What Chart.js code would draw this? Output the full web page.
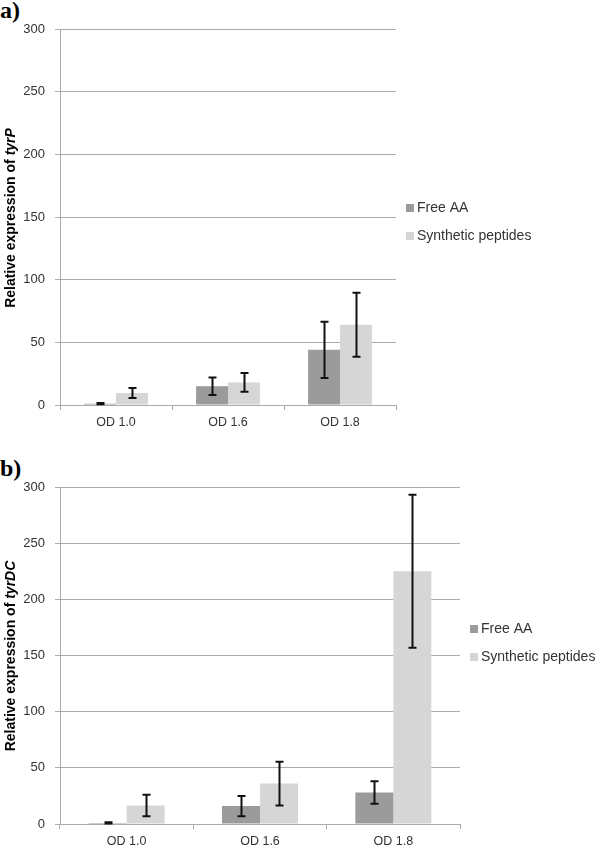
<!DOCTYPE html>
<html lang="en">
<head>
    <meta charset="UTF-8">
    <title>Relative expression of tyrP and tyrDC</title>
    <script src="https://cdn.jsdelivr.net/npm/chart.js"></script>
    <style>
        body {
            margin: 0;
            background: #ffffff;
            width: 600px;
            height: 849px;
            position: relative;
            overflow: hidden;
        }
        .panel-label {
            position: absolute;
            left: 0;
            font-family: "Liberation Serif", "DejaVu Serif", serif;
            font-weight: bold;
            font-size: 24px;
            line-height: 24px;
            color: #000;
        }
        canvas {
            position: absolute;
            left: 0;
        }
    </style>
</head>
<body>
    <div class="panel-label" style="top: -2px;">a)</div>
    <div class="panel-label" style="top: 456px;">b)</div>
    <canvas id="chartA" width="600" height="432" style="top: 0;"></canvas>
    <canvas id="chartB" width="600" height="417" style="top: 432px;"></canvas>

    <script>
        // data
        const categories = ['OD 1.0', 'OD 1.6', 'OD 1.8'];
        const seriesNames = ['Free AA', 'Synthetic peptides'];

        const tyrPFree = [1, 15, 44];
        const tyrPFreeErr = [0.5, 7, 22.5];
        const tyrPSynth = [9.5, 18, 64];
        const tyrPSynthErr = [4, 7.5, 25.5];

        const tyrDCFree = [1, 16, 28];
        const tyrDCFreeErr = [0.5, 9, 10];
        const tyrDCSynth = [16.5, 36, 225];
        const tyrDCSynthErr = [9.5, 19.5, 68];

        const yMax = 300;
        const yStep = 50;

        const colors = ['#9b9b9b', '#d6d6d6'];
        const gridColor = '#ababab';
        const textColor = '#333333';

        Chart.defaults.font.family = '"Liberation Sans", Arial, sans-serif';
        Chart.defaults.color = textColor;

        // error bars, drawn from the dataset's errors array
        const errorBars = {
            id: 'errorBars',
            afterDatasetsDraw(chart) {
                const ctx = chart.ctx;
                const y = chart.scales.y;
                ctx.save();
                ctx.strokeStyle = '#111';
                ctx.lineWidth = 2;
                chart.data.datasets.forEach((ds, i) => {
                    const meta = chart.getDatasetMeta(i);
                    meta.data.forEach((bar, j) => {
                        const v = ds.data[j], e = ds.errors[j];
                        const top = y.getPixelForValue(v + e);
                        const bot = y.getPixelForValue(v - e);
                        const x = Math.round(bar.x) + 0.5;
                        ctx.beginPath();
                        ctx.moveTo(x, top);
                        ctx.lineTo(x, bot);
                        ctx.moveTo(x - 4, top);
                        ctx.lineTo(x + 4, top);
                        ctx.moveTo(x - 4, bot);
                        ctx.lineTo(x + 4, bot);
                        ctx.stroke();
                    });
                });
                ctx.restore();
            }
        };

        // y title with italic gene name, plus a plain legend on the right
        const extras = {
            id: 'extras',
            afterDraw(chart, args, opts) {
                const ctx = chart.ctx;
                ctx.save();
                // axis title
                const plain = 'Relative expression of ';
                const gene = opts.gene;
                const fPlain = 'bold 14px "Liberation Sans", Arial, sans-serif';
                const fItal = 'italic bold 14px "Liberation Sans", Arial, sans-serif';
                ctx.font = fPlain;
                const w1 = ctx.measureText(plain).width;
                ctx.font = fItal;
                const w2 = ctx.measureText(gene).width;
                ctx.translate(opts.titleX, opts.titleY);
                ctx.rotate(-Math.PI / 2);
                ctx.fillStyle = '#000';
                ctx.textBaseline = 'middle';
                ctx.textAlign = 'left';
                ctx.font = fPlain;
                ctx.fillText(plain, -(w1 + w2) / 2, 0);
                ctx.font = fItal;
                ctx.fillText(gene, -(w1 + w2) / 2 + w1, 0);
                ctx.restore();

                // legend
                ctx.save();
                ctx.font = '14px "Liberation Sans", Arial, sans-serif';
                ctx.textBaseline = 'middle';
                ctx.textAlign = 'left';
                seriesNames.forEach((name, i) => {
                    const ly = opts.legendY + i * 28;
                    ctx.fillStyle = colors[i];
                    ctx.fillRect(opts.legendX, ly - 4, 8, 8);
                    ctx.fillStyle = textColor;
                    ctx.fillText(name, opts.legendX + 11, ly);
                });
                ctx.restore();
            }
        };

        function makeChart(id, free, freeErr, synth, synthErr, o) {
            return new Chart(document.getElementById(id), {
                type: 'bar',
                data: {
                    labels: categories,
                    datasets: [
                        { label: seriesNames[0], data: free, errors: freeErr, backgroundColor: colors[0] },
                        { label: seriesNames[1], data: synth, errors: synthErr, backgroundColor: colors[1] }
                    ]
                },
                options: {
                    responsive: false,
                    animation: false,
                    datasets: { bar: { categoryPercentage: 0.57, barPercentage: 1 } },
                    layout: { padding: { left: 0, top: o.padTop, right: o.padRight, bottom: 0 } },
                    plugins: {
                        legend: { display: false },
                        tooltip: { enabled: false },
                        extras: o
                    },
                    scales: {
                        x: {
                            afterFit(s) { s.height = o.xHeight; },
                            grid: { drawOnChartArea: false, color: gridColor, tickLength: 5 },
                            border: { color: gridColor },
                            ticks: { font: { size: 12.5 }, padding: 5, color: textColor }
                        },
                        y: {
                            min: 0,
                            max: yMax,
                            afterFit(s) { s.width = 60; },
                            ticks: { stepSize: yStep, font: { size: 13 }, padding: 10, color: textColor },
                            grid: { color: gridColor, tickLength: 5 },
                            border: { color: gridColor }
                        }
                    }
                },
                plugins: [errorBars, extras]
            });
        }

        makeChart('chartA', tyrPFree, tyrPFreeErr, tyrPSynth, tyrPSynthErr, {
            gene: 'tyrP', padTop: 29, padRight: 204, xHeight: 27,
            titleX: 11, titleY: 218, legendX: 406, legendY: 208
        });

        makeChart('chartB', tyrDCFree, tyrDCFreeErr, tyrDCSynth, tyrDCSynthErr, {
            gene: 'tyrDC', padTop: 55, padRight: 140, xHeight: 25,
            titleX: 11, titleY: 224, legendX: 470, legendY: 197
        });
    </script>
</body>
</html>
